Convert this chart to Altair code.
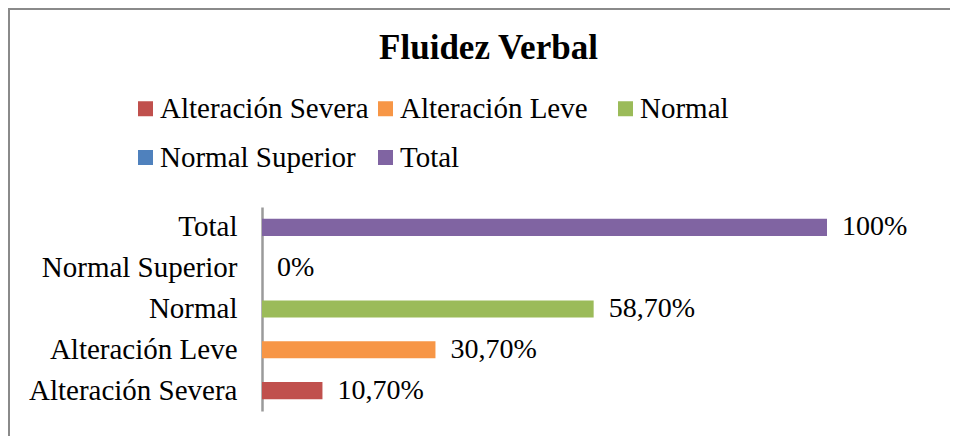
import altair as alt
import pandas as pd

categories = ["Alteración Severa", "Alteración Leve", "Normal", "Normal Superior", "Total"]
values = [10.7, 30.7, 58.7, 0.0, 100.0]
labels = ["10,70%", "30,70%", "58,70%", "0%", "100%"]
colors = ["#C0504D", "#F79646", "#9BBB59", "#4F81BD", "#8064A2"]
y_order = ["Total", "Normal Superior", "Normal", "Alteración Leve", "Alteración Severa"]

df = pd.DataFrame({"categoria": categories, "valor": values, "etiqueta": labels})

FONT = "'Liberation Serif', 'Times New Roman', 'DejaVu Serif', serif"
W, H = 565, 204
PL, PT, PR, PB = 254, 199, 123, 25

y_enc = alt.Y(
    "categoria:N",
    sort=y_order,
    scale=alt.Scale(paddingInner=0.58, paddingOuter=0.29),
    axis=alt.Axis(
        title=None, ticks=False, labelPadding=25, labelFont=FONT, labelFontSize=29,
        labelColor="#000000", domainColor="#9a9a9a", domainWidth=2.5, grid=False,
        labelLimit=0,
    ),
)
x_enc = alt.X("valor:Q", scale=alt.Scale(domain=[0, 100], nice=False), axis=None)

bars = alt.Chart(df).mark_bar().encode(
    x=x_enc,
    y=y_enc,
    color=alt.Color(
        "categoria:N",
        scale=alt.Scale(domain=categories, range=colors),
        legend=alt.Legend(
            title=None, orient="none", legendX=-131, legendY=-113,
            direction="horizontal", columns=3, gridAlign="all",
            symbolType="square", symbolSize=225, symbolStrokeWidth=0,
            labelFont=FONT, labelFontSize=29, labelColor="#000000", labelLimit=0,
            labelOffset=0, columnPadding=2, rowPadding=19, padding=0,
        ),
    ),
)

text = alt.Chart(df).mark_text(
    align="left", baseline="middle", dx=15, font=FONT, fontSize=28, color="#000000"
).encode(x=x_enc, y=y_enc, text="etiqueta:N")

frame_left = alt.Chart(df).mark_rule(color="#8a8a8a", strokeWidth=2).encode(
    x=alt.value(-PL + 1), y=alt.value(-PT), y2=alt.value(H + PB)
)
frame_top = alt.Chart(df).mark_rule(color="#8a8a8a", strokeWidth=2).encode(
    y=alt.value(-PT + 1), x=alt.value(-PL), x2=alt.value(W + PR)
)

chart = alt.layer(bars, text, frame_left, frame_top).properties(
    width=W,
    height=H,
    title=alt.TitleParams(
        "Fluidez Verbal", font=FONT, fontSize=35, fontWeight="bold", color="#000000",
        anchor="middle", dx=-56, offset=0, baseline="alphabetic", dy=87,
    ),
    autosize=alt.AutoSizeParams(type="none"),
    padding={"left": PL, "top": PT, "right": PR, "bottom": PB},
).configure_view(stroke=None)

chart.save("out.html", embed_options={"renderer": "svg", "actions": False})
